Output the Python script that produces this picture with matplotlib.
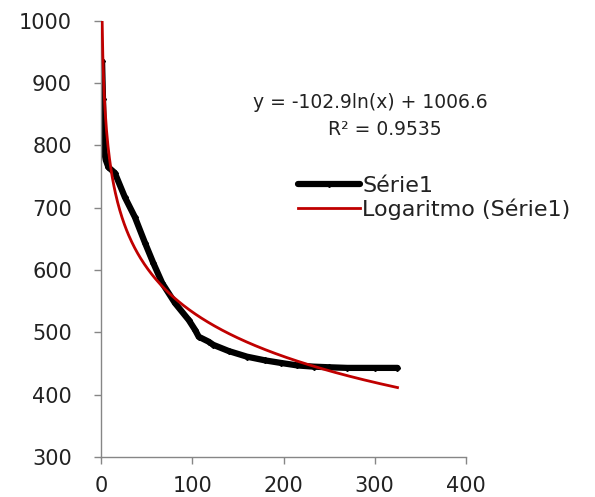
import numpy as np
import matplotlib
matplotlib.use("Agg")
import matplotlib.pyplot as plt

plt.rcParams["font.family"] = ["DejaVu Sans"]

# Série1 values
serie_x = [1, 2, 3, 4, 5, 8, 15, 26, 37, 48, 57, 67, 81, 96, 103, 107,
           118, 123, 140, 160, 180, 197, 215, 233, 250, 270, 300, 325]
serie_y = [935, 875, 815, 785, 777, 765, 756, 717, 685, 644, 612, 579, 547,
           520, 504, 493, 485, 480, 470, 461, 455, 451, 447, 445, 444, 443,
           443, 443]

# trendline shown on the chart: y = a ln(x) + b
trend_a = -102.9
trend_b = 1006.6
trend_r2 = 0.9535

x_ticks = [0, 100, 200, 300, 400]
y_ticks = [300, 400, 500, 600, 700, 800, 900, 1000]

fig = plt.figure(figsize=(5.95, 4.97), dpi=100)
ax = fig.add_axes([0.170, 0.0805, 0.613, 0.8775])

tx = np.linspace(1, max(serie_x), 400)
ty = trend_a * np.log(tx) + trend_b

ax.plot(serie_x, serie_y, color="black", lw=4.5, marker="D", ms=3,
        solid_capstyle="round", solid_joinstyle="round", label="Série1", zorder=2)
ax.plot(tx, ty, color="#c00000", lw=2, label="Logaritmo (Série1)", zorder=3)

ax.set_xlim(0, 400)
ax.set_ylim(300, 1000)
ax.set_xticks(x_ticks)
ax.set_yticks(y_ticks)
ax.tick_params(labelsize=15, color="#868686", length=5, width=1,
               labelcolor="#222222")
ax.tick_params(axis="y", pad=16)
ax.tick_params(axis="x", pad=9)
for s in ["top", "right"]:
    ax.spines[s].set_visible(False)
for s in ["left", "bottom"]:
    ax.spines[s].set_color("#868686")
    ax.spines[s].set_linewidth(1)

ax.text(253 / 595, 1 - 102 / 497, f"y = {trend_a}ln(x) + {trend_b}",
        transform=fig.transFigure, ha="left", va="center", fontsize=13.5,
        color="#222222")
ax.text(328 / 595, 1 - 130 / 497, f"R² = {trend_r2}",
        transform=fig.transFigure, ha="left", va="center", fontsize=13.5,
        color="#222222")

leg = ax.legend(loc="upper left", bbox_to_anchor=(298 / 595, 1 - 176 / 497),
                bbox_transform=fig.transFigure, frameon=False, fontsize=16,
                handlelength=2.8, handletextpad=0.08, labelspacing=0.12,
                borderaxespad=0, borderpad=0)
for t in leg.get_texts():
    t.set_color("#222222")

fig.savefig("out.png", dpi=100)
